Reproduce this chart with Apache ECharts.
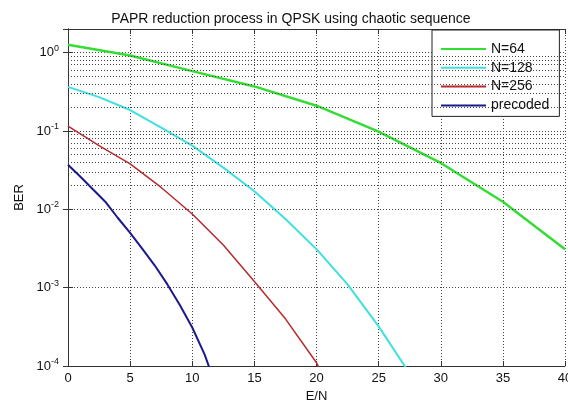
<!DOCTYPE html>
<html>
<head>
<meta charset="utf-8">
<script src="https://cdn.jsdelivr.net/npm/echarts@6/dist/echarts.min.js"></script>
<style>
  html, body { margin: 0; padding: 0; background: #fff; }
  #chart { width: 568px; height: 401px; }
</style>
</head>
<body>
<div id="chart"></div>
<script>
var seriesNames = ['N=64', 'N=128', 'N=256', 'precoded'];

var xN64 = [0, 5, 10, 15, 20, 25, 30, 35, 40];
var yN64 = [1.26, 0.92, 0.58, 0.37, 0.21, 0.098, 0.039, 0.0125, 0.0031];

var xN128 = [0, 2.5, 5, 7.5, 10, 12.5, 15, 17.5, 20, 22.5, 25, 27.5];
var yN128 = [0.365, 0.27, 0.185, 0.11, 0.065, 0.034, 0.017, 0.0075, 0.0031, 0.0011, 0.00032, 0.00008];

var xN256 = [0, 2.5, 5, 7.5, 10, 12.5, 15, 17.5, 20, 22.5];
var yN256 = [0.115, 0.065, 0.038, 0.019, 0.0087, 0.0035, 0.0012, 0.0004, 0.00011, 0.00002];

var xPre = [0, 1, 2, 3, 4, 5, 6, 7, 8, 9, 10, 11, 12];
var yPre = [0.037, 0.026, 0.018, 0.0125, 0.0078, 0.005, 0.0031, 0.0019, 0.0011, 0.0006, 0.00031, 0.00014, 0.00005];

var yDecades = [1e-4, 1e-3, 1e-2, 1e-1, 1];
var minorSteps = [2, 3, 4, 5, 6, 7, 8, 9];

function pairs(xs, ys) {
	var out = [];
	for (var i = 0; i < xs.length; i++) out.push([xs[i], ys[i]]);
	return out;
}

// minor grid positions (2..9 of each decade), drawn as dotted mark lines
var minorLines = [];
yDecades.forEach(function(d) {
	minorSteps.forEach(function(m) {
		var v = d * m;
		if (v < 2) minorLines.push({ yAxis: v });
	});
});

var font = 'Liberation Sans, Arial, sans-serif';
var dotted = { color: '#444', width: 1, type: [1, 2] };

function yLabel(v) {
	var e = Math.round(Math.log(v) / Math.LN10);
	if (Math.abs(Math.pow(10, e) - v) / v > 1e-6) return '';
	return '{b|10}{e|' + e + '}';
}

var chart = echarts.init(document.getElementById('chart'));
var option = {
	backgroundColor : '#fff',
	animation : false,
	title : {
		text : 'PAPR reduction process in QPSK using chaotic sequence',
		left : 286,
		top : 7,
		textAlign : 'center',
		textStyle : { fontFamily : font, fontSize : 14, fontWeight : 'normal', color : '#111' }
	},
	legend : {
		data : seriesNames,
		orient : 'vertical',
		left : 432,
		top : 30,
		padding : [12, 10, 4, 8],
		itemWidth : 45,
		itemHeight : 14,
		itemGap : 4.8,
		itemStyle : { opacity : 0 },
		backgroundColor : '#fff',
		borderColor : '#222',
		borderWidth : 1,
		borderRadius : 0,
		textStyle : { fontFamily : font, fontSize : 14, color : '#111' }
	},
	grid : {
		left : 68,
		right : 3,
		top : 29,
		bottom : 35,
		outerBoundsMode : 'none'
	},
	xAxis : [ {
		type : 'value',
		min : 0,
		max : 40,
		interval : 5,
		name : 'E/N',
		nameLocation : 'middle',
		nameGap : 22,
		nameTextStyle : { fontFamily : font, fontSize : 13, color : '#111' },
		axisLine : { lineStyle : { color : '#333' } },
		axisTick : { inside : true, length : 5, lineStyle : { color : '#333' } },
		axisLabel : { fontFamily : font, fontSize : 13, color : '#111', margin : 6 },
		splitLine : { show : true, lineStyle : dotted }
	}, {
		type : 'value',
		position : 'top',
		min : 0,
		max : 40,
		interval : 5,
		axisLine : { show : true, lineStyle : { color : '#333' } },
		axisTick : { inside : true, length : 5, lineStyle : { color : '#333' } },
		axisLabel : { show : false },
		splitLine : { show : false }
	} ],
	yAxis : [ {
		type : 'log',
		logBase : 10,
		min : 1e-4,
		max : 2,
		name : 'BER',
		nameLocation : 'middle',
		nameGap : 41,
		nameTextStyle : { fontFamily : font, fontSize : 13, color : '#111' },
		axisLine : { show : true, lineStyle : { color : '#333' } },
		axisTick : { inside : true, length : 5, lineStyle : { color : '#333' } },
		axisLabel : {
			formatter : yLabel,
			margin : 9,
			color : '#111',
			rich : {
				b : { fontFamily : font, fontSize : 13, color : '#111' },
				e : { fontFamily : font, fontSize : 9, color : '#111', padding : [0, 0, 9, 0] }
			}
		},
		splitLine : { show : true, lineStyle : dotted }
	}, {
		type : 'log',
		logBase : 10,
		min : 1e-4,
		max : 2,
		position : 'right',
		axisLine : { show : true, lineStyle : { color : '#333' } },
		axisTick : { inside : true, length : 5, lineStyle : { color : '#333' } },
		axisLabel : { show : false },
		splitLine : { show : false }
	} ],
	series : [ {
		type : 'line',
		name : 'grid',
		data : [],
		z : 1,
		silent : true,
		markLine : {
			silent : true,
			symbol : 'none',
			label : { show : false },
			lineStyle : dotted,
			data : minorLines
		}
	}, {
		type : 'line',
		name : seriesNames[0],
		data : pairs(xN64, yN64),
		symbol : 'none',
		color : '#33dd33',
		lineStyle : { width : 2.5 }
	}, {
		type : 'line',
		name : seriesNames[1],
		data : pairs(xN128, yN128),
		symbol : 'none',
		color : '#3fe0e0',
		lineStyle : { width : 2 }
	}, {
		type : 'line',
		name : seriesNames[2],
		data : pairs(xN256, yN256),
		symbol : 'none',
		color : '#b82a2c',
		lineStyle : { width : 1.5 }
	}, {
		type : 'line',
		name : seriesNames[3],
		data : pairs(xPre, yPre),
		symbol : 'none',
		color : '#1a1a8e',
		lineStyle : { width : 2 }
	} ]
};
chart.setOption(option);

window.onresize = function() {
	chart.resize();
}
</script>
</body>
</html>
